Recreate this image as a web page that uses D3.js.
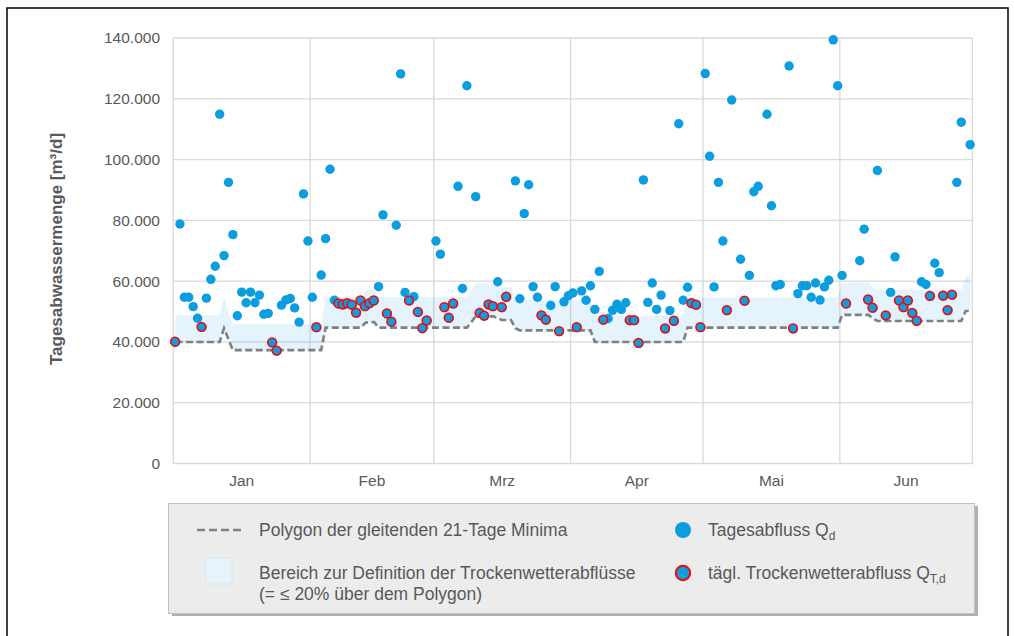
<!DOCTYPE html>
<html><head><meta charset="utf-8">
<script src="https://cdn.jsdelivr.net/npm/d3@7"></script>
<style>
html,body{margin:0;padding:0;background:#fff;}
svg{display:block;font-family:"Liberation Sans",Arial,sans-serif;}
</style></head><body>
<svg id="chart" width="1014" height="636"></svg>
<script>
// ---- data (values in 1000 m³/d) ----
const months = ["Jan","Feb","Mrz","Apr","Mai","Jun"];
const monthLengths = [31,28,31,30,31,30];
const yTicks = [0,20,40,60,80,100,120,140];
const yTickLabels = ["0","20.000","40.000","60.000","80.000","100.000","120.000","140.000"];

// Tagesabfluss Q_d per day
const qJan = [39.9,78.8,54.7,54.7,51.6,47.8,44.8,54.4,60.6,64.9,114.9,68.4,92.5,75.3,48.6,56.4,52.9,56.4,52.9,55.4,49.1,49.4,39.7,37.0,52.1,53.8,54.3,51.2,46.5,88.7,73.2];
const qFeb = [54.7,44.7,62.0,74.0,96.8,53.7,52.5,52.2,52.6,52.1,49.5,53.5,51.6,52.6,53.5,58.2,81.8,49.2,46.5,78.4,128.2,56.3,53.5,54.9,49.7,44.4,46.9,null];
const qMar = [73.2,68.9,51.3,47.8,52.5,91.2,57.6,124.3,null,87.8,49.4,48.5,52.2,51.6,59.8,51.3,54.7,null,93.0,54.2,82.2,91.7,58.2,54.7,48.6,47.2,52.0,58.2,43.4,53.2,55.2];
const qApr = [56.1,44.7,56.8,53.7,58.5,50.7,63.2,47.2,47.7,50.4,52.4,50.7,52.9,47.0,47.0,39.5,93.3,53.0,59.4,50.7,55.4,44.3,50.3,46.8,111.8,53.7,58.0,52.6,52.1,44.7];
const qMai = [128.3,101.1,58.1,92.5,73.2,50.3,119.6,null,67.2,53.4,61.9,89.4,91.2,null,114.9,84.8,58.5,58.9,null,130.8,44.3,55.9,58.5,58.5,54.7,59.4,53.8,58.1,60.3,139.4,124.3];
const qJun = [61.9,52.5,null,null,66.7,77.1,53.8,51.1,96.4,null,48.6,56.3,68.0,53.5,51.3,53.5,49.4,46.8,59.8,58.9,55.0,65.9,62.8,55.1,50.3,55.4,92.5,112.3,null,104.9];

// days (index from 1 Jan) counted as Trockenwetterabfluss
const dryDays = [0,6,22,23, 32,37,38,39,40,41,42,43,44,45,48,49,53,55,56,57,
  61,62,63,69,70,71,72,74,75,83,84,87, 91,97,103,104,105,111,113,117,118,119,
  125,129,140, 152,157,158,161,164,165,166,167,168,171,174,175,176];

// Polygon der gleitenden 21-Tage Minima
const polyJan = [40.0,40.0,40.0,40.0,40.0,40.0,40.0,40.0,40.0,40.0,40.0,44.5,40.9,37.3,37.3,37.3,37.3,37.3,37.3,37.3,37.3,37.3,37.3,37.3,37.3,37.3,37.3,37.3,37.3,37.3,37.3];
const polyFeb = [37.3,37.3,37.3,44.7,44.7,44.7,44.7,44.7,44.7,44.7,44.7,44.7,46.3,46.5,46.5,44.7,44.7,44.7,44.7,44.7,44.7,44.7,44.7,44.7,44.7,44.7,44.7,44.7];
const polyMar = [44.7,44.7,44.7,44.7,44.7,44.7,44.7,44.7,46.5,48.4,48.4,48.4,48.4,48.4,47.8,47.2,47.2,47.2,44.5,43.8,43.8,43.8,43.8,43.8,43.8,43.8,43.8,43.8,43.8,43.8,43.8];
const polyApr = [43.8,43.8,43.8,43.8,43.8,40.0,40.0,40.0,40.0,40.0,40.0,40.0,40.0,40.0,40.0,40.0,40.0,40.0,40.0,40.0,40.0,40.0,40.0,40.0,40.0,40.0,44.7,44.7,44.7,44.7];
const polyMai = [44.7,44.7,44.7,44.7,44.7,44.7,44.7,44.7,44.7,44.7,44.7,44.7,44.7,44.7,44.7,44.7,44.7,44.7,44.7,44.7,44.7,44.7,44.7,44.7,44.7,44.7,44.7,44.7,44.7,44.7,44.7];
const polyJun = [48.9,48.9,48.9,48.9,48.9,48.9,48.9,47.6,46.9,46.9,46.9,46.9,46.9,46.9,46.9,46.9,46.9,46.9,46.9,46.9,46.9,46.9,46.9,46.9,46.9,46.9,46.9,46.9,50.2,50.2];

// upper edge of "Bereich zur Definition der Trockenwetterabflüsse"
const bandJan = [48.8,48.8,48.8,48.8,48.8,48.8,48.8,48.8,48.8,48.8,48.8,55.0,49.5,45.8,45.8,45.8,45.8,45.8,45.8,45.8,45.8,45.8,45.8,45.8,45.8,45.8,45.8,45.8,45.8,45.8,45.8];
const bandFeb = [45.8,45.8,45.8,54.8,54.8,54.8,54.8,54.8,54.8,54.8,54.8,54.8,56.8,57.1,57.1,54.8,54.8,54.8,54.8,54.8,54.8,54.8,54.8,54.8,54.8,54.8,54.8,54.8];
const bandMar = [54.8,54.8,54.8,54.8,54.8,54.8,54.8,54.8,57.0,59.2,59.2,59.2,59.2,59.2,58.5,58.0,58.0,58.0,54.5,53.8,53.8,53.8,53.8,53.8,53.8,53.8,53.8,53.8,53.8,53.8,53.8];
const bandApr = [53.8,53.8,53.8,53.8,53.8,48.6,48.6,48.6,48.6,48.6,48.6,48.6,48.6,48.6,48.6,48.6,48.6,48.6,48.6,48.6,48.6,48.6,48.6,48.6,48.6,48.6,54.6,54.6,54.6,54.6];
const bandMai = [54.6,54.6,54.6,54.6,54.6,54.6,54.6,54.6,54.6,54.6,54.6,54.6,54.6,54.6,54.6,54.6,54.6,54.6,54.6,54.6,54.6,54.6,54.6,54.6,54.6,54.6,54.6,54.6,54.6,54.6,54.6];
const bandJun = [59.5,59.5,59.5,59.5,59.5,59.5,59.5,58.0,57.2,57.2,57.2,57.2,57.2,57.2,57.2,57.2,57.2,57.2,57.2,57.2,57.2,57.2,57.2,57.2,57.2,57.2,57.2,57.2,61.5,61.5];

const legendLabels = ["Polygon der gleitenden 21-Tage Minima","Bereich zur Definition der Trockenwetterabflüsse","(= ≤ 20% über dem Polygon)","Tagesabfluss Q","tägl. Trockenwetterabfluss Q"];
const yTitle = "Tagesabwassermenge [m³/d]";

// ---- assemble ----
const q = [].concat(qJan,qFeb,qMar,qApr,qMai,qJun);
const poly = [].concat(polyJan,polyFeb,polyMar,polyApr,polyMai,polyJun);
const band = [].concat(bandJan,bandFeb,bandMar,bandApr,bandMai,bandJun);
const drySet = new Set(dryDays);
const days = q.map((v,i)=>({i, q:v, p:poly[i], b:band[i], dry:drySet.has(i)}));
const nDays = d3.sum(monthLengths);
const monthStarts = monthLengths.map((d,i)=>d3.sum(monthLengths.slice(0,i)));

const svg = d3.select("#chart");
const plot = {left:173.3, right:972.3, top:38, bottom:463.5};
const x = d3.scaleLinear().domain([0,nDays]).range([plot.left, plot.right]);
const y = d3.scaleLinear().domain([0,140]).range([plot.bottom, plot.top]);
const cx = i => x(i+0.5);

const BLUE = "#0a9de0", GRID = "#d9d9d9", TXT = "#595959";

// outer frame
svg.append("rect").attr("x",7).attr("y",8).attr("width",1001).attr("height",640)
  .attr("fill","none").attr("stroke","#000").attr("stroke-width",1.5);

// gridlines
const g = svg.append("g");
g.selectAll("line.h").data(yTicks).join("line")
  .attr("x1",plot.left).attr("x2",plot.right)
  .attr("y1",d=>y(d)).attr("y2",d=>y(d))
  .attr("stroke",GRID).attr("stroke-width",1.3);
g.selectAll("line.v").data(monthStarts.concat([nDays])).join("line")
  .attr("x1",d=>x(d)).attr("x2",d=>x(d))
  .attr("y1",plot.top).attr("y2",plot.bottom)
  .attr("stroke",GRID).attr("stroke-width",1.3);

// band
const area = d3.area().x(d=>cx(d.i)).y0(d=>y(d.p)).y1(d=>y(d.b));
svg.append("path").datum(days).attr("d",area)
  .attr("fill","rgb(0,150,225)").attr("fill-opacity",0.1);

// polygon line
const line = d3.line().x(d=>cx(d.i)).y(d=>y(d.p));
svg.append("path").datum(days).attr("d",line)
  .attr("fill","none").attr("stroke","#808080").attr("stroke-width",2.6)
  .attr("stroke-dasharray","7,3.5");

// points
const pts = days.filter(d=>d.q!==null);
svg.append("g").selectAll("circle").data(pts).join("circle")
  .attr("cx",d=>cx(d.i)).attr("cy",d=>y(d.q)).attr("r",4.7)
  .attr("fill",BLUE);
svg.append("g").selectAll("circle").data(pts.filter(d=>d.dry)).join("circle")
  .attr("cx",d=>cx(d.i)-0.5).attr("cy",d=>y(d.q)-0.5).attr("r",4.4)
  .attr("fill",BLUE).attr("stroke","#ff0000").attr("stroke-width",1.5);

// y axis labels
svg.append("g").selectAll("text").data(yTicks).join("text")
  .attr("x",160).attr("y",d=>y(d)).attr("dy","0.35em")
  .attr("text-anchor","end").attr("font-size",15.5).attr("fill",TXT)
  .text((d,i)=>yTickLabels[i]);
// x axis labels
svg.append("g").selectAll("text").data(months).join("text")
  .attr("x",(d,i)=>(x(monthStarts[i])+x(monthStarts[i]+monthLengths[i]))/2)
  .attr("y",486).attr("text-anchor","middle").attr("font-size",15.5).attr("fill",TXT)
  .text(d=>d);
// y title
svg.append("text").attr("transform","translate(62,249) rotate(-90)")
  .attr("text-anchor","middle").attr("font-size",17).attr("font-weight","bold")
  .attr("fill",TXT).text(yTitle);

// legend
const L = svg.append("g");
L.append("rect").attr("x",172).attr("y",506).attr("width",806).attr("height",110).attr("fill","#b0b0b0");
L.append("rect").attr("x",168.5).attr("y",503.5).attr("width",806).attr("height",110)
  .attr("fill","#ececec").attr("stroke","#c0c0c0");
L.append("line").attr("x1",197).attr("x2",241).attr("y1",530).attr("y2",530)
  .attr("stroke","#808080").attr("stroke-width",2.6).attr("stroke-dasharray","8,4");
L.append("rect").attr("x",206).attr("y",558).attr("width",26).attr("height",26)
  .attr("fill","#e6f3fb").attr("stroke","#d8e6ef");
const lt = (xx,yy,t)=>L.append("text").attr("x",xx).attr("y",yy).attr("dy","0.35em")
  .attr("font-size",17.5).attr("fill",TXT).text(t);
lt(259,530,legendLabels[0]);
lt(259,573,legendLabels[1]);
lt(259,594,legendLabels[2]);
L.append("circle").attr("cx",683).attr("cy",530).attr("r",8).attr("fill",BLUE);
L.append("circle").attr("cx",683).attr("cy",573).attr("r",7.2).attr("fill",BLUE)
  .attr("stroke","#ff0000").attr("stroke-width",2);
const t1 = lt(708,530,legendLabels[3]);
t1.append("tspan").attr("font-size",12).attr("dy","0.35em").text("d");
const t2 = lt(708,573,legendLabels[4]);
t2.append("tspan").attr("font-size",12).attr("dy","0.35em").text("T,d");
</script>
</body></html>
